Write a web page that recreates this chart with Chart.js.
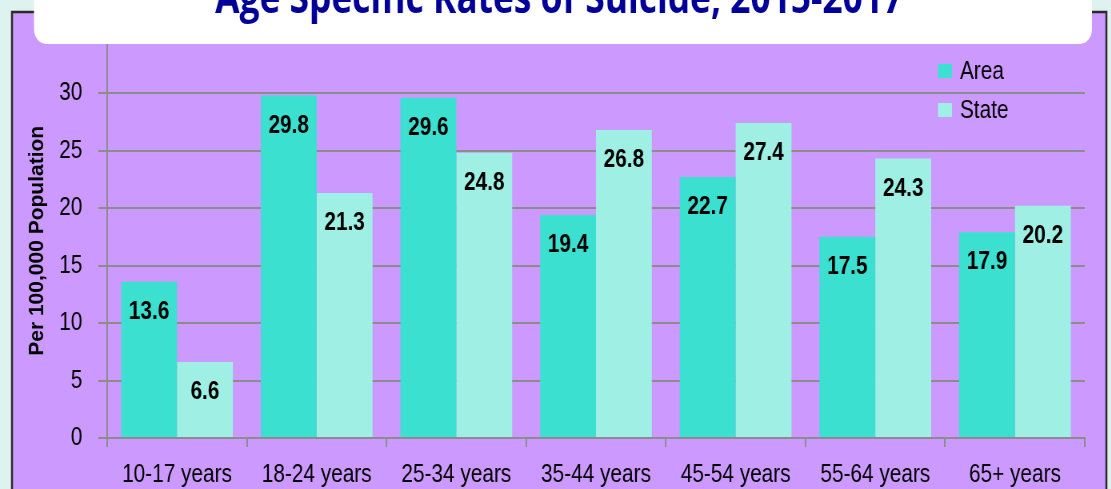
<!DOCTYPE html>
<html>
<head>
<meta charset="utf-8">
<script src="https://cdn.jsdelivr.net/npm/chart.js@4/dist/chart.umd.min.js"></script>
<style>
  html, body { margin: 0; padding: 0; overflow: hidden; background: #DEF2EF; }
  #wrap { width: 1389px; height: 489px; transform: scaleX(0.8); transform-origin: 0 0; }
</style>
</head>
<body>
<div id="wrap"><canvas id="grafico" width="1389" height="489"></canvas></div>
<script>
var categorias = ['10-17 years', '18-24 years', '25-34 years', '35-44 years', '45-54 years', '55-64 years', '65+ years']
var valoresArea = [13.6, 29.8, 29.6, 19.4, 22.7, 17.5, 17.9]
var valoresState = [6.6, 21.3, 24.8, 26.8, 27.4, 24.3, 20.2]
var titulo = 'Age Specific Rates of Suicide, 2015-2017'
var tituloEixoY = 'Per 100,000 Population'

var fonte = '"Liberation Sans", Arial, sans-serif'
Chart.defaults.font.family = fonte
Chart.defaults.color = '#000'

//fundo verde claro, painel roxo com borda
var fundoPlugin = {
    id: 'fundo',
    beforeDraw: function(chart) {
        var ctx = chart.ctx
        ctx.save()
        ctx.fillStyle = '#DEF2EF'
        ctx.fillRect(0, 0, chart.width, chart.height)
        ctx.fillStyle = '#CC99FF'
        ctx.fillRect(15, 12, 1368, 500)
        ctx.strokeStyle = '#2a2a2a'
        ctx.lineWidth = 2.5
        ctx.strokeRect(15, 12, 1368, 500)
        ctx.restore()
    }
}

//valores dentro das barras
var rotulosPlugin = {
    id: 'rotulos',
    afterDatasetsDraw: function(chart) {
        var ctx = chart.ctx
        ctx.save()
        ctx.font = 'bold 26px ' + fonte
        ctx.fillStyle = '#000'
        ctx.textAlign = 'center'
        ctx.textBaseline = 'middle'
        chart.data.datasets.forEach(function(ds, i) {
            chart.getDatasetMeta(i).data.forEach(function(bar, j) {
                ctx.fillText(ds.data[j].toFixed(1), bar.x, bar.y + 30)
            })
        })
        ctx.restore()
    }
}

//titulo do eixo y (sem o aperto horizontal)
var eixoYPlugin = {
    id: 'eixoY',
    afterDraw: function(chart) {
        var ctx = chart.ctx
        var area = chart.chartArea
        ctx.save()
        ctx.translate(47, (area.top + area.bottom) / 2 + 4)
        ctx.scale(1.25, 1)
        ctx.rotate(-Math.PI / 2)
        ctx.font = 'bold 21px ' + fonte
        ctx.fillStyle = '#000'
        ctx.textAlign = 'center'
        ctx.textBaseline = 'middle'
        ctx.fillText(tituloEixoY, 0, 0)
        ctx.restore()
    }
}

//legenda dentro da area do grafico + caixa branca do titulo
var legendaTituloPlugin = {
    id: 'legendaTitulo',
    afterDraw: function(chart) {
        var ctx = chart.ctx
        ctx.save()
        var y = 71
        chart.data.datasets.forEach(function(ds) {
            ctx.fillStyle = ds.backgroundColor
            ctx.fillRect(1172.5, y - 7, 17.5, 14)
            ctx.fillStyle = '#000'
            ctx.font = '26px ' + fonte
            ctx.textAlign = 'left'
            ctx.textBaseline = 'middle'
            ctx.fillText(ds.label, 1200, y + 1)
            y += 39
        })

        ctx.fillStyle = '#fff'
        ctx.beginPath()
        ctx.roundRect(42.5, -30, 1322.5, 74, 15)
        ctx.fill()

        ctx.font = 'bold 40px "Open Sans", sans-serif'
        var tam = 40 * 860 / ctx.measureText(titulo).width
        ctx.font = 'bold ' + tam + 'px "Open Sans", sans-serif'
        ctx.fillStyle = '#000099'
        ctx.textAlign = 'center'
        ctx.textBaseline = 'alphabetic'
        ctx.fillText(titulo, 699, 13)
        ctx.restore()
    }
}

var ctx = document.getElementById('grafico')
var chart = new Chart(ctx, {
    type: 'bar',
    data: {
        labels: categorias,
        datasets: [{
            label: 'Area',
            data: valoresArea,
            backgroundColor: '#3CE0D0',
            borderWidth: 0,
            categoryPercentage: 0.8,
            barPercentage: 1.0
        }, {
            label: 'State',
            data: valoresState,
            backgroundColor: '#A0EFE5',
            borderWidth: 0,
            categoryPercentage: 0.8,
            barPercentage: 1.0
        }]
    },
    options: {
        responsive: false,
        animation: false,
        devicePixelRatio: 1,
        layout: { padding: { top: 33, right: 33, left: 0, bottom: 0 } },
        plugins: {
            legend: { display: false },
            tooltip: { enabled: false }
        },
        scales: {
            x: {
                grid: { display: true, drawOnChartArea: false, drawTicks: true, tickLength: 9, color: '#8c8c8c', lineWidth: 2 },
                border: { color: '#8c8c8c', width: 2 },
                ticks: { font: { size: 26 }, color: '#000', padding: 12, maxRotation: 0 },
                afterFit: function(scale) { scale.height = 51 }
            },
            y: {
                min: 0,
                max: 35,
                ticks: { stepSize: 5, font: { size: 26 }, color: '#000', padding: 20 },
                grid: { color: '#8c8c8c', lineWidth: 2, tickLength: 11 },
                border: { color: '#8c8c8c', width: 2 },
                afterFit: function(scale) { scale.width = 134 }
            }
        }
    },
    plugins: [fundoPlugin, rotulosPlugin, eixoYPlugin, legendaTituloPlugin]
})
</script>
</body>
</html>
